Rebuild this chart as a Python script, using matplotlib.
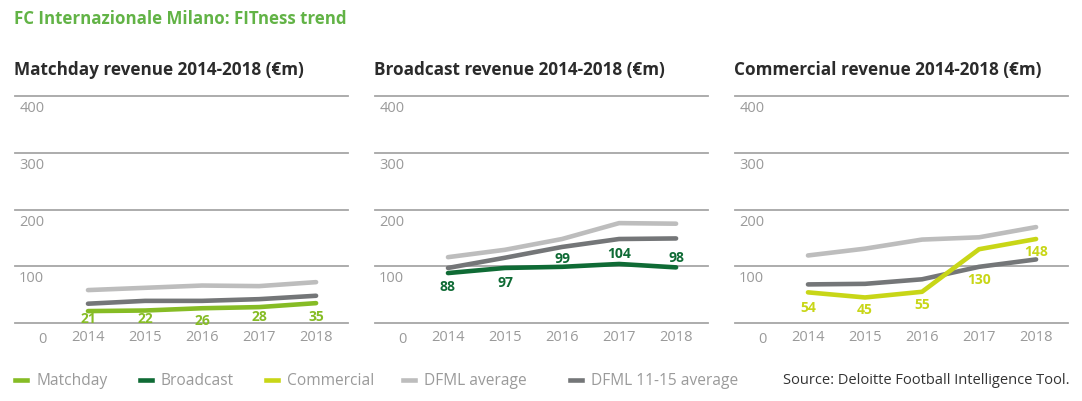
import matplotlib
matplotlib.use("Agg")
import matplotlib.pyplot as plt
from matplotlib.lines import Line2D

plt.rcParams['font.family'] = ['Open Sans', 'DejaVu Sans']

years = [2014, 2015, 2016, 2017, 2018]
yticks = [100, 200, 300, 400]

matchday = [21, 22, 26, 28, 35]
matchday_dfml = [58, 62, 66, 65, 72]
matchday_dfml1115 = [34, 39, 39, 42, 48]

broadcast = [88, 97, 99, 104, 98]
broadcast_dfml = [116, 129, 148, 176, 175]
broadcast_dfml1115 = [97, 115, 134, 148, 149]

commercial = [54, 45, 55, 130, 148]
commercial_dfml = [119, 131, 147, 151, 169]
commercial_dfml1115 = [68, 69, 77, 99, 112]

titles = ["Matchday revenue 2014-2018 (€m)",
          "Broadcast revenue 2014-2018 (€m)",
          "Commercial revenue 2014-2018 (€m)"]
legend_labels = ["Matchday", "Broadcast", "Commercial", "DFML average", "DFML 11-15 average"]

C_MATCH = "#86BC25"
C_BROAD = "#0F6B35"
C_COMM = "#C8D617"
C_LIGHT = "#BDBDBD"
C_DARK = "#747678"
C_GRID = "#A6A6A6"
C_TICK = "#9A9A9A"

W, H = 1082, 402
fig = plt.figure(figsize=(W / 100, H / 100), dpi=100)

# label offsets (data units) relative to each point
panels = [
    (matchday, matchday_dfml, matchday_dfml1115, C_MATCH,
     [-13, -14, -20, -16, -23]),
    (broadcast, broadcast_dfml, broadcast_dfml1115, C_BROAD,
     [-23, -25, 16, 20, 18]),
    (commercial, commercial_dfml, commercial_dfml1115, C_COMM,
     [-26, -20, -21, -52, -21]),
]
lefts = [15, 375, 735]
ax_w = 333
y_top, y_bot = 97, 324

for i, (vals, dfml, dfml2, col, offs) in enumerate(panels):
    ax = fig.add_axes([lefts[i] / W, (H - y_bot) / H, ax_w / W, (y_bot - y_top) / H])
    ax.set_xlim(2012.72, 2018.56)
    ax.set_ylim(0, 400)
    for s in ax.spines.values():
        s.set_visible(False)
    ax.set_xticks([])
    ax.set_yticks([])
    ax.patch.set_alpha(0)
    for g in [0] + yticks:
        ax.axhline(g, color=C_GRID, lw=1.3, zorder=1, clip_on=False)
    for g in yticks:
        ax.annotate(str(g), xy=(0, g), xycoords=('axes fraction', 'data'),
                    xytext=(3, -3), textcoords='offset points',
                    ha='left', va='top', fontsize=10.5, color=C_TICK)
    ax.annotate("0", xy=(0, 0), xycoords=('axes fraction', 'data'),
                xytext=(19.5, -6), textcoords='offset points',
                ha='center', va='top', fontsize=10.5, color=C_TICK)
    for yv in years:
        ax.annotate(str(yv), xy=(yv, 0), xycoords='data',
                    xytext=(0, -4), textcoords='offset points',
                    ha='center', va='top', fontsize=10.5, color=C_TICK,
                    annotation_clip=False)
    ax.plot(years, dfml, color=C_LIGHT, lw=3.3, solid_capstyle='round', zorder=2, clip_on=False)
    ax.plot(years, dfml2, color=C_DARK, lw=3.3, solid_capstyle='round', zorder=3, clip_on=False)
    ax.plot(years, vals, color=col, lw=3.3, solid_capstyle='round', zorder=4, clip_on=False)
    for x, v, o in zip(years, vals, offs):
        ax.annotate(str(v), xy=(x, v + o), xycoords='data',
                    ha='center', va='center', fontsize=10, fontweight='bold', color=col,
                    annotation_clip=False, zorder=5)
    fig.text(lefts[i] / W - 1 / W, 1 - 70 / H, titles[i], ha='left', va='center',
             fontsize=12.3, fontweight='bold', color='#2B2B2B')

fig.text(14 / W, 1 - 19 / H, "FC Internazionale Milano: FITness trend", ha='left', va='center',
         fontsize=12.2, fontweight='bold', color='#62B346')

leg_cols = [C_MATCH, C_BROAD, C_COMM, C_LIGHT, C_DARK]
leg_x = [15, 140, 266, 403, 570]
ly = 1 - 381 / H
for lab, c, x in zip(legend_labels, leg_cols, leg_x):
    fig.add_artist(Line2D([x / W, (x + 12) / W], [ly, ly], color=c, lw=3.3,
                          transform=fig.transFigure))
    fig.text((x + 21) / W, ly, lab, ha='left', va='center', fontsize=11.2, color='#9A9A9A')

fig.text(1070 / W, ly, "Source: Deloitte Football Intelligence Tool.", ha='right', va='center',
         fontsize=10.5, color='#333333')

fig.savefig("out.png", dpi=100)
